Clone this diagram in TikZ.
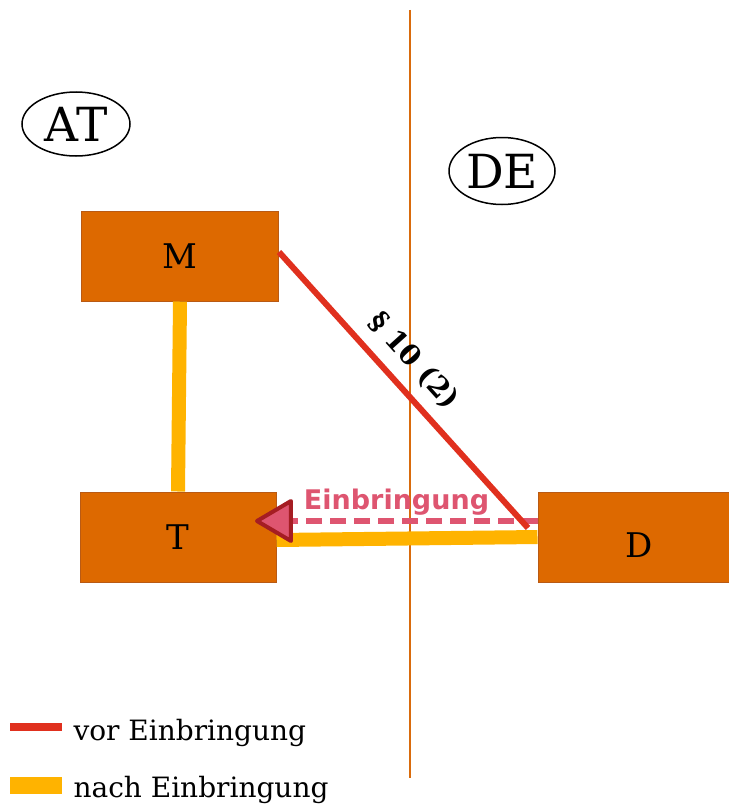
\documentclass[tikz,border=0pt]{standalone}
\usepackage{fontspec}
\usepackage{xcolor}
\usepackage{tikz}
\usetikzlibrary{arrows.meta, positioning, shapes.geometric}
\setmainfont{DejaVu Serif}
\newfontfamily\labelsans{DejaVu Sans}
\definecolor{boxorange}{RGB}{221,105,0}
\definecolor{boxedge}{RGB}{185,90,20}
\definecolor{nachyellow}{RGB}{255,179,0}
\definecolor{vorred}{RGB}{224,48,30}
\definecolor{einpink}{RGB}{222,85,112}
\definecolor{eindark}{RGB}{165,29,35}
\definecolor{borderline}{RGB}{217,107,12}

\begin{document}
\begin{tikzpicture}[x=1pt,y=-1pt,
  land/.style={draw,ellipse,line width=1.5pt,font=\fontsize{47}{52}\selectfont,inner sep=0pt},
  firm/.style={draw=boxedge,fill=boxorange,line width=1pt,font=\fontsize{34}{38}\selectfont},
  vor/.style={vorred,line width=6pt},
  nach/.style={nachyellow,line width=14pt}]
\useasboundingbox (0,0) rectangle (728,808);
% border between AT and DE
\coordinate (gtop) at (410,10);
\coordinate (gbot) at (410,778);
\draw[borderline,line width=1.5pt](gtop)--(gbot);
\node[land,minimum width=108pt,minimum height=64pt] (AT) at (76,124) {AT};
\node[land,minimum width=106pt,minimum height=67pt] (DE) at (502,171) {DE};
\node[firm,minimum width=197pt,minimum height=90pt] (M) at (180,256) {M};
\node[firm,minimum width=196pt,minimum height=90pt] (T) at (178,537) {T};
\node[firm,minimum width=202pt,minimum height=90pt] (D) at (639,537) {};
\node at (639,545) [font=\fontsize{34}{38}\selectfont] (Dtxt) {D};
% after
\draw[nach](M.south)--(T.north);
\draw[nach]([yshift=-3pt]T.east)--(D.west);
% Einbringung
\coordinate (einstart) at (538,521);
\coordinate (einend) at (255,521);
\draw[einpink,line width=6pt,dash pattern=on 16pt off 8pt,
  -{Triangle[length=40pt,width=46pt,fill=einpink,color=eindark,line width=4pt,round]}]
  (einstart)--(einend)
  node[midway,above=-1pt,text=einpink,font=\labelsans\bfseries\fontsize{27}{30}\selectfont]{Einbringung};
% before
\coordinate (redend) at (528,528);
\draw[vor]([yshift=4pt]M.east)--(redend)
  node[pos=0.46,sloped,above=8pt,text=black,font=\bfseries\fontsize{28}{32}\selectfont]{\S\ 10 (2)};
% legend
\coordinate (k1) at (10,727);
\coordinate (k2) at (10,785);
\draw[vorred,line width=8.5pt](k1)--++(52,0);
\draw[nachyellow,line width=17pt](k2)--++(52,0);
\node[right,font=\fontsize{28}{32}\selectfont] at (70,733) (kvor) {vor Einbringung};
\node[right,font=\fontsize{28}{32}\selectfont] at (70,790) (knach) {nach Einbringung};
\end{tikzpicture}
\end{document}
